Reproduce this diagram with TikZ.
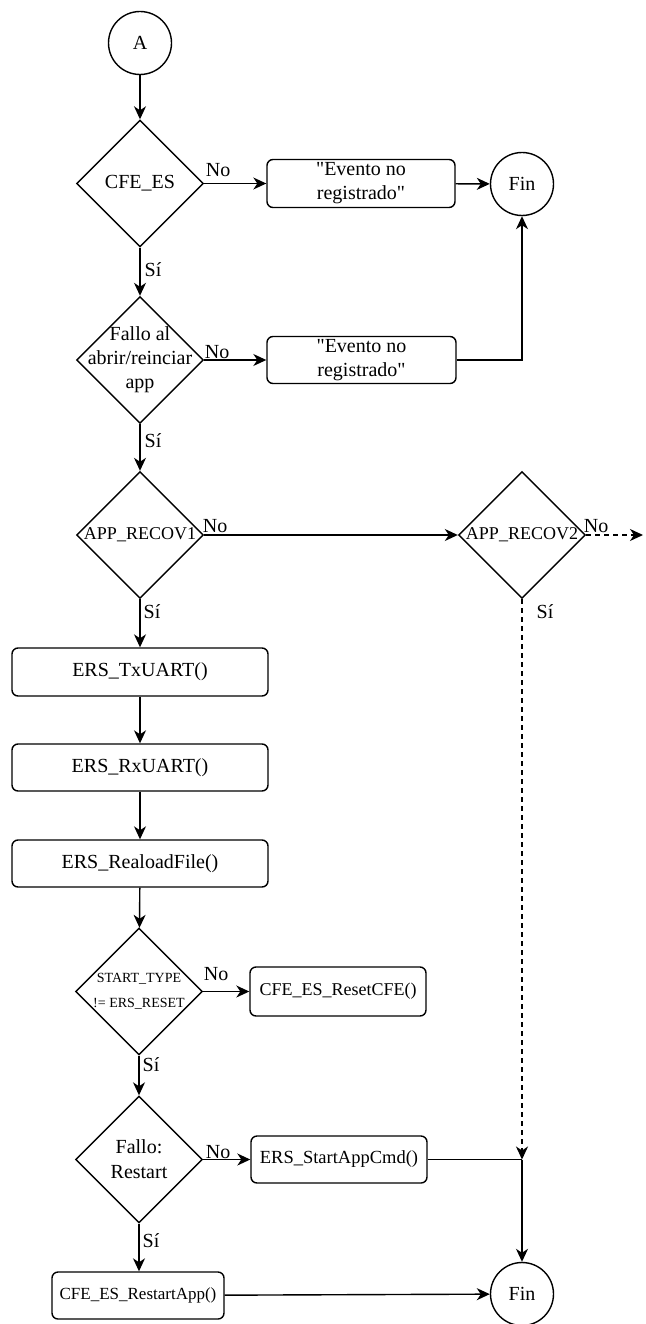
\documentclass[tikz,border=0pt]{standalone}
\usepackage{fontspec}
\setmainfont{Liberation Serif}[Ligatures=TeXOff]
\usetikzlibrary{shapes.geometric,arrows.meta}

\begin{document}
\begin{tikzpicture}[x=1pt,y=-1pt,
  line width=1.4pt,
  every node/.style={font=\fontsize{20}{24}\selectfont},
  stepbox/.style={draw, rounded corners=6pt, inner sep=0pt, align=center, minimum height=48pt},
  decision/.style={draw, diamond, inner sep=0pt, minimum width=127pt, minimum height=127pt},
  terminal/.style={draw, circle, inner sep=0pt, minimum size=63pt},
  flow/.style={-{Stealth[length=13pt,width=12pt,inset=4pt]}},
  optional/.style={flow, dash pattern=on 5pt off 4pt},
  tag/.style={inner sep=0pt, anchor=base west, pos=0}
]
\useasboundingbox (0,0) rectangle (645,1324);

% start and first check
\node[terminal] (a) at (140,43) {A};
\node[decision, label={center:CFE\_ES}] (d1) at (140,183.5) {};
\node[stepbox, minimum width=188pt] (e1) at (361,183.5) {"Evento no\\registrado"};
\node[terminal] (fin1) at (522,184) {Fin};

% open / restart failure
\node[decision, label={[align=center]center:Fallo al\\abrir/reinciar\\app}] (d2) at (140,360) {};
\node[stepbox, minimum width=189pt, minimum height=47pt] (e2) at (361.5,360) {"Evento no\\registrado"};

% recovery modes
\node[decision, label={[font=\fontsize{18}{22}\selectfont]center:APP\_RECOV1}] (r1) at (140,535) {};
\node[decision, label={[font=\fontsize{18}{22}\selectfont]center:APP\_RECOV2}] (r2) at (522,535) {};
\coordinate (r2out) at (643,535);

% recovery sequence
\node[stepbox, minimum width=256pt] (tx) at (140,672) {ERS\_TxUART()};
\node[stepbox, minimum width=256pt, minimum height=47pt] (rx) at (140,767.5) {ERS\_RxUART()};
\node[stepbox, minimum width=256pt, minimum height=47pt] (rl) at (140,863.5) {ERS\_RealoadFile()};

\node[decision, label={[align=center,font=\fontsize{14}{25}\selectfont]center:START\_TYPE\\!= ERS\_RESET}] (st) at (139,991.5) {};
\node[stepbox, minimum width=176pt, minimum height=49pt, font=\fontsize{18}{22}\selectfont] (reset) at (338,991.5) {CFE\_ES\_ResetCFE()};

\node[decision, label={[align=center,font=\fontsize{20}{25}\selectfont]center:Fallo:\\Restart}] (d3) at (139,1159.5) {};
\node[stepbox, minimum width=176pt, minimum height=47pt, font=\fontsize{18.5}{22}\selectfont] (start) at (339,1159.5) {ERS\_StartAppCmd()};
\coordinate (join) at (522,1159.5);

\node[stepbox, minimum width=172pt, minimum height=47pt, font=\fontsize{17}{20}\selectfont] (restart) at (138,1295.5) {CFE\_ES\_RestartApp()};
\node[terminal] (fin2) at (522,1294) {Fin};

% connectors
\draw[flow] (a) -- (d1);
\draw[flow] (d1.east) -- node[tag, xshift=1pt, yshift=7pt] {No} (e1.west);
\draw[flow] (e1) -- (fin1);
\draw[flow] (d1.south) -- node[tag, xshift=4pt, yshift=-29pt] {Sí} (d2.north);

\draw[flow] (d2.east) -- node[tag, xshift=0pt, yshift=2pt] {No} (e2.west);
\draw[flow] (e2.east) -| (fin1.south);
\draw[flow] (d2.south) -- node[tag, xshift=4pt, yshift=-23pt] {Sí} (r1.north);

\draw[flow] (r1.east) -- node[tag, xshift=-2pt, yshift=3pt] {No} (r2.west);
\draw[optional] (r2.east) -- node[tag, xshift=-3pt, yshift=3pt] {No} (r2out);
\draw[flow] (r1.south) -- node[tag, xshift=3pt, yshift=-19pt] {Sí} (tx.north);
\draw[optional] (r2.south) -- node[tag, xshift=14pt, yshift=-19pt] {Sí} (join);

\draw[flow] (tx) -- (rx);
\draw[flow] (rx) -- (rl);
\draw[flow] (rl) -- (st);

\draw[flow] (st.east) -- node[tag, xshift=0pt, yshift=11pt] {No} (reset.west);
\draw[flow] (st.south) -- node[tag, xshift=3pt, yshift=-16pt] {Sí} (d3.north);

\draw[flow] (d3.east) -- node[tag, xshift=2pt, yshift=1pt] {No} (start.west);
\draw (start.east) -- (join);
\draw[flow] (join) -- (fin2.north);
\draw[flow] (d3.south) -- node[tag, xshift=3pt, yshift=-24pt] {Sí} (d3.south |- restart.north);
\draw[flow] (restart) -- (fin2);
\end{tikzpicture}
\end{document}
